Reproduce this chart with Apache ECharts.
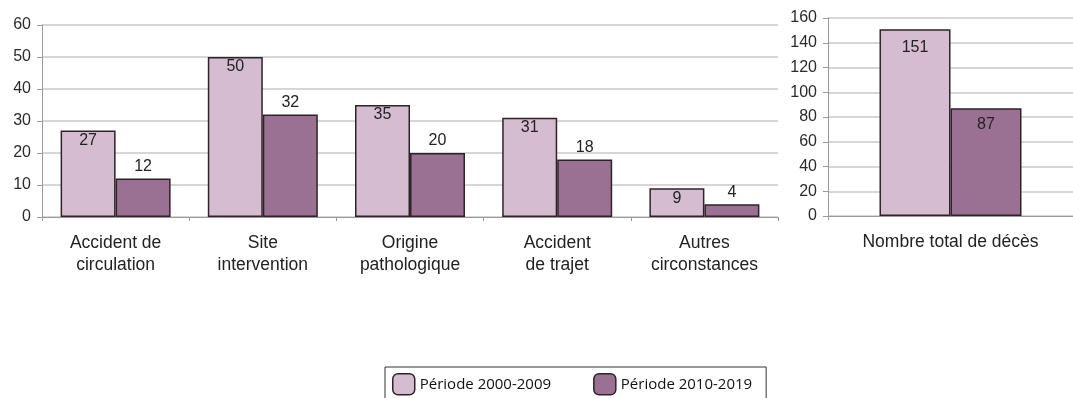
<!DOCTYPE html>
<html>
<head>
<meta charset="utf-8">
<script src="https://cdn.jsdelivr.net/npm/echarts@6/dist/echarts.min.js"></script>
<style>
html,body{margin:0;padding:0;background:#fff;}
#c{width:1073px;height:398px;}
</style>
</head>
<body>
<div id="c"></div>
<script>
const categories = ['Accident de\ncirculation', 'Site\nintervention', 'Origine\npathologique', 'Accident\nde trajet', 'Autres\ncirconstances'];
const period1 = [27, 50, 35, 31, 9];
const period2 = [12, 32, 20, 18, 4];
const totalCategory = ['Nombre total de décès'];
const total1 = [151];
const total2 = [87];
const seriesNames = ['Période 2000-2009', 'Période 2010-2019'];

const LIGHT = '#d6bcd0';
const DARK = '#9b7193';
const BORDER = '#2f2329';
const FONT = '"Liberation Sans", Arial, sans-serif';

const chart = echarts.init(document.getElementById('c'), null, {renderer: 'canvas'});

function yAxis(gridIndex, max, interval) {
  return {
    type: 'value', gridIndex, min: 0, max, interval,
    axisLine: {show: true, lineStyle: {color: '#9a9a9a', width: 1}},
    axisTick: {show: true, length: 5, lineStyle: {color: '#9a9a9a'}},
    axisLabel: {color: '#2a2a2a', fontSize: 16, fontFamily: FONT, margin: 11},
    splitLine: {show: true, lineStyle: {color: '#c8c8c8', width: 1.5}}
  };
}
function xAxis(gridIndex, data) {
  return {
    type: 'category', gridIndex, data,
    axisLine: {show: true, lineStyle: {color: '#9a9a9a', width: 1}},
    axisTick: {show: true, length: 4, lineStyle: {color: '#9a9a9a'}},
    axisLabel: {color: '#222', fontSize: 17.5, fontFamily: FONT, lineHeight: 22, margin: 15, interval: 0}
  };
}
function label(pos, dist) {
  return {show: true, position: pos, distance: dist, color: '#222', fontSize: 16, fontFamily: FONT};
}

chart.setOption({
  animation: false,
  textStyle: {fontFamily: FONT},
  legend: {
    data: seriesNames,
    left: 385, top: 367,
    orient: 'horizontal',
    itemWidth: 22, itemHeight: 21, itemGap: 42,
    borderColor: '#333', borderWidth: 1,
    padding: [6, 14, 8, 7],
    textStyle: {fontFamily: '"Open Sans", sans-serif', fontSize: 15, color: '#111'},
    itemStyle: {borderColor: BORDER, borderWidth: 1.5}
  },
  grid: [
    {left: 42, right: 295, top: 25, bottom: 181},
    {left: 828, right: 0, top: 18, bottom: 182}
  ],
  xAxis: [xAxis(0, categories), xAxis(1, totalCategory)],
  yAxis: [yAxis(0, 60, 10), yAxis(1, 160, 20)],
  series: [
    {name: seriesNames[0], type: 'bar', xAxisIndex: 0, yAxisIndex: 0, data: period1, barWidth: 55, barGap: '0%',
     itemStyle: {color: LIGHT, borderColor: BORDER, borderWidth: 1.5}, label: label('insideTop', 2)},
    {name: seriesNames[1], type: 'bar', xAxisIndex: 0, yAxisIndex: 0, data: period2, barWidth: 55, barGap: '0%',
     itemStyle: {color: DARK, borderColor: BORDER, borderWidth: 1.5}, label: label('top', 4)},
    {name: seriesNames[0], type: 'bar', xAxisIndex: 1, yAxisIndex: 1, data: total1, barWidth: 71, barGap: '0%',
     itemStyle: {color: LIGHT, borderColor: BORDER, borderWidth: 1.5}, label: label('insideTop', 10)},
    {name: seriesNames[1], type: 'bar', xAxisIndex: 1, yAxisIndex: 1, data: total2, barWidth: 71, barGap: '0%',
     itemStyle: {color: DARK, borderColor: BORDER, borderWidth: 1.5}, label: label('insideTop', 8)}
  ]
});
</script>
</body>
</html>
